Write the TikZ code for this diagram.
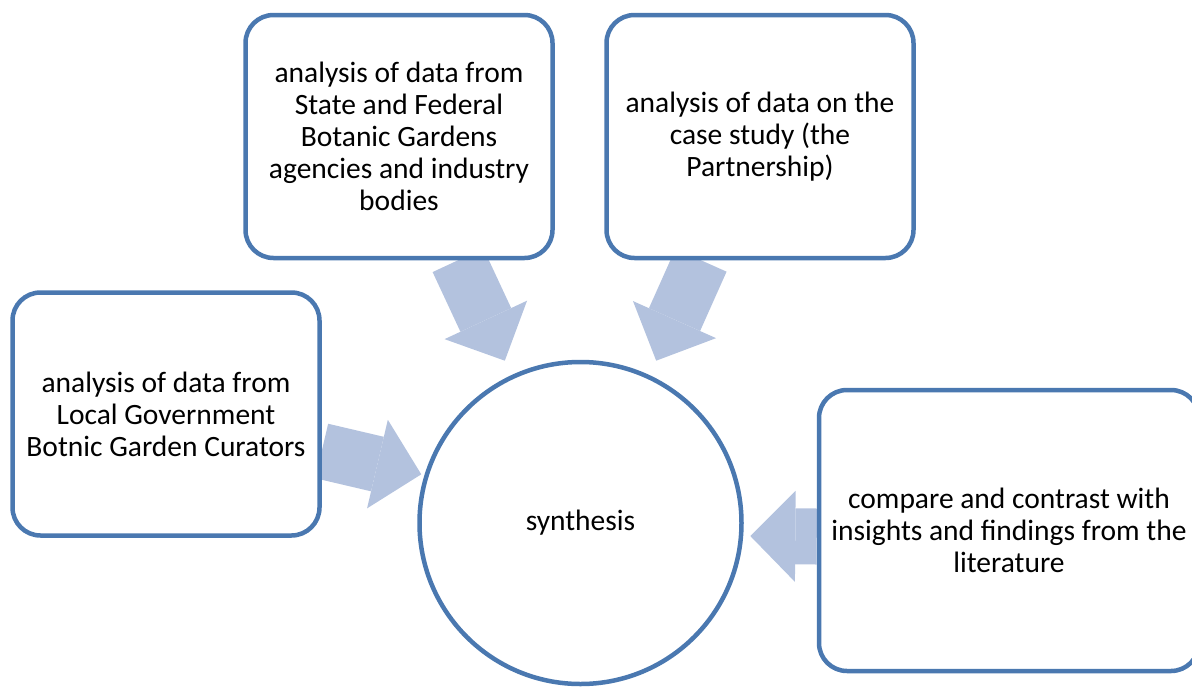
\documentclass[tikz,border=0pt]{standalone}
\usepackage{amsmath}
\usepackage{fontspec}
\setmainfont{Carlito}
\usetikzlibrary{arrows.meta,calc,backgrounds}

\definecolor{boxblue}{RGB}{74,120,176}
\definecolor{arrowblue}{RGB}{179,194,222}

\tikzset{
  stagebox/.style = {draw = boxblue, line width = 4.5pt, fill = white,
    rounded corners = 28pt, align = center, inner sep = 0pt,
    font = \fontsize{29.5}{32}\selectfont},
  synthcircle/.style = {circle, draw = boxblue, line width = 4.5pt, fill = white,
    minimum size = 322pt, inner sep = 0pt, font = \fontsize{29.5}{32}\selectfont},
  blockarrow/.style = {draw = arrowblue, line width = 56pt,
    -{Triangle[width = 91pt, length = 45pt, line width = 0pt]}}
}

\begin{document}
\begin{tikzpicture}[x = 1pt, y = -1pt]
\useasboundingbox (0,0) rectangle (1192,686);

\node [stagebox, minimum width = 307pt, minimum height = 243pt] (state) at (399,136.5)
  {analysis of data from\\State and Federal\\Botanic Gardens\\agencies and industry\\bodies};
\node [stagebox, minimum width = 307pt, minimum height = 243pt] (partner) at (760,136.5)
  {analysis of data on the\\case study (the\\Partnership)};
\node [stagebox, minimum width = 307pt, minimum height = 243pt] (local) at (166,414)
  {analysis of data from\\Local Government\\Botnic Garden Curators};
\node [stagebox, minimum width = 380pt, minimum height = 281pt] (lit) at (1009,530.5)
  {compare and contrast with\\insights and findings from the\\literature};
\node [synthcircle] (synth) at (580.5,523) {synthesis};

% block arrows behind the boxes
\begin{scope}[on background layer]
\draw [blockarrow] ($(state.south)+(59,0)$) -- ($(synth.center)!1.097!(synth.115)$);
\draw [blockarrow] ($(partner.south)+(-59,0)$) -- ($(synth.center)!1.097!(synth.65)$);
\draw [blockarrow] ($(local.east)+(0,37)$) -- ($(synth.center)!1.02!(synth.163.4)$);
\draw [blockarrow] ($(lit.west)+(0,6)$) -- ($(synth.center)!1.04!(synth.center -| synth.east)+(0,13)$);
\end{scope}
\end{tikzpicture}
\end{document}
